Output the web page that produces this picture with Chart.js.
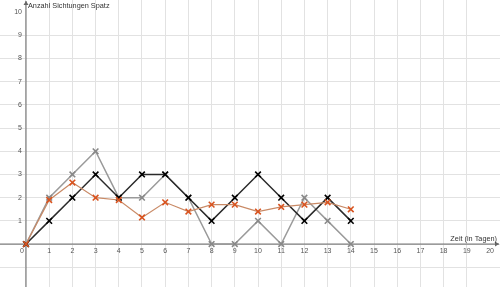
<!DOCTYPE html>
<html>
<head>
<meta charset="utf-8">
<script src="https://cdn.jsdelivr.net/npm/chart.js@4/dist/chart.umd.min.js"></script>
<style>
  html, body { margin: 0; padding: 0; background: #fff; }
  canvas { display: block; }
</style>
</head>
<body>
<canvas id="chart" width="500" height="287"></canvas>
<script>
// Tage (x) und Sichtungen je Reihe
const tage = [0, 1, 2, 3, 4, 5, 6, 7, 8, 9, 10, 11, 12, 13, 14];
const reiheSchwarz = [0, 1, 2, 3, 2, 3, 3, 2, 1, 2, 3, 2, 1, 2, 1];
const reiheGrau = [0, 2, 3, 4, 2, 2, 3, 2, 0, 0, 1, 0, 2, 1, 0];
const reiheOrange = [0, 1.9, 2.65, 2.0, 1.9, 1.15, 1.8, 1.4, 1.7, 1.7, 1.4, 1.6, 1.7, 1.8, 1.5];

const xTicks = [0, 1, 2, 3, 4, 5, 6, 7, 8, 9, 10, 11, 12, 13, 14, 15, 16, 17, 18, 19, 20];
const yTicks = [1, 2, 3, 4, 5, 6, 7, 8, 9, 10];

const xTitel = "Zeit (in Tagen)";
const yTitel = "Anzahl Sichtungen Spatz";

function punkte(werte) {
  return tage.map((t, i) => ({ x: t, y: werte[i] }));
}

function reihe(werte, linie, marker, breite) {
  return {
    data: punkte(werte),
    showLine: true,
    borderColor: linie,
    borderWidth: breite,
    pointStyle: "crossRot",
    pointRadius: 4,
    pointBorderColor: marker,
    pointBorderWidth: 1.6,
    pointBackgroundColor: marker,
    tension: 0,
    clip: false,
  };
}

// Achsen, Pfeile und Beschriftung selbst zeichnen (wie im Original am Nullpunkt)
const achsenPlugin = {
  id: "achsen",
  beforeDatasetsDraw(chart) {
    const c = chart.ctx;
    const xs = chart.scales.x;
    const ys = chart.scales.y;
    const x0 = xs.getPixelForValue(0);
    const y0 = ys.getPixelForValue(0);
    const area = chart.chartArea;

    c.save();
    c.strokeStyle = "#666";
    c.fillStyle = "#666";
    c.lineWidth = 1;
    c.beginPath();
    c.moveTo(area.left, y0);
    c.lineTo(area.right - 1, y0);
    c.moveTo(x0, area.bottom);
    c.lineTo(x0, area.top + 1);
    c.stroke();

    // Pfeilspitzen
    c.beginPath();
    c.moveTo(area.right - 1, y0);
    c.lineTo(area.right - 5, y0 - 2.5);
    c.lineTo(area.right - 5, y0 + 2.5);
    c.closePath();
    c.fill();
    c.beginPath();
    c.moveTo(x0, area.top + 1);
    c.lineTo(x0 - 2.5, area.top + 5);
    c.lineTo(x0 + 2.5, area.top + 5);
    c.closePath();
    c.fill();

    c.font = "7px Arial, 'Liberation Sans', sans-serif";
    c.fillStyle = "#555";
    c.textBaseline = "middle";
    c.textAlign = "center";
    xTicks.forEach(v => {
      const px = xs.getPixelForValue(v);
      c.fillText(String(v), v === 0 ? px - 4 : px, y0 + 7);
    });
    c.textAlign = "right";
    yTicks.forEach(v => {
      c.fillText(String(v), x0 - 4, ys.getPixelForValue(v));
    });

    c.font = "7.3px Arial, 'Liberation Sans', sans-serif";
    c.fillStyle = "#333";
    c.textAlign = "left";
    c.fillText(yTitel, x0 + 2, area.top + 6);
    c.textAlign = "right";
    c.fillText(xTitel, area.right - 3, y0 - 5);
    c.restore();
  },
};

const gitterFarbe = (ctx) =>
  Number.isInteger(ctx.tick.value) ? "#e2e2e2" : "rgba(0,0,0,0)";

new Chart(document.getElementById("chart"), {
  type: "scatter",
  data: {
    datasets: [
      reihe(reiheOrange, "#c98a66", "#d8531f", 1.2),
      reihe(reiheSchwarz, "#2a2a2a", "#000", 1.5),
      reihe(reiheGrau, "#9a9a9a", "#888", 1.5),
    ],
  },
  options: {
    responsive: false,
    animation: false,
    layout: { padding: 0, autoPadding: false },
    plugins: {
      legend: { display: false },
      tooltip: { enabled: false },
    },
    scales: {
      x: {
        type: "linear",
        min: -1.12,
        max: 20.43,
        ticks: { display: false, stepSize: 1 },
        grid: { color: gitterFarbe, drawTicks: false, lineWidth: 1 },
        border: { display: false },
        afterFit: (s) => { s.height = 0; },
      },
      y: {
        type: "linear",
        min: -1.85,
        max: 10.52,
        ticks: { display: false, stepSize: 1 },
        grid: { color: gitterFarbe, drawTicks: false, lineWidth: 1 },
        border: { display: false },
        afterFit: (s) => { s.width = 0; },
      },
    },
  },
  plugins: [achsenPlugin],
});
</script>
</body>
</html>
